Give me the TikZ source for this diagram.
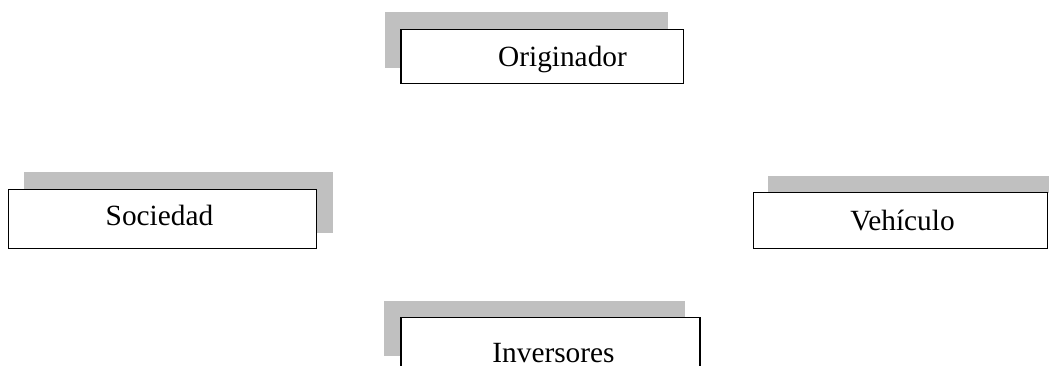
\documentclass[tikz,border=0pt]{standalone}
\usepackage{fontspec}
\setmainfont{Liberation Serif}
\definecolor{shade}{HTML}{C0C0C0}
\begin{document}
\begin{tikzpicture}[x=0.75pt,y=-0.75pt,
  shadowbox/.style={fill=shade,draw=none},
  mainbox/.style={fill=white,draw=black,line width=1.15pt},
  lbl/.style={anchor=base,font=\fontsize{22}{26}\selectfont,inner sep=0pt}]
\useasboundingbox (0,0) rectangle (1049,365);
\clip (0,0) rectangle (1049,365);
% Originador
\fill[shadowbox] (384.7,12.3) rectangle (667.7,68.3);
\draw[mainbox] (401,29.3) rectangle (683.3,83.3);
\node[lbl] (orig) at (562.5,66.7) {Originador};
% Sociedad
\fill[shadowbox] (24.3,172.3) rectangle (333.3,232.7);
\draw[mainbox] (8.3,189.3) rectangle (316.7,248.3);
\node[lbl] (soc) at (159.5,225.7) {Sociedad};
% Vehiculo
\fill[shadowbox] (768.3,176) rectangle (1060,192.7);
\draw[mainbox] (753.3,192.7) rectangle (1047.7,248.3);
\node[lbl] (veh) at (902.5,230.7) {Vehículo};
% Inversores
\fill[shadowbox] (384.3,301) rectangle (685,356);
\draw[mainbox] (401,317.7) rectangle (700,380);
\node[lbl] (inv) at (553.5,362.5) {Inversores};
\end{tikzpicture}
\end{document}
